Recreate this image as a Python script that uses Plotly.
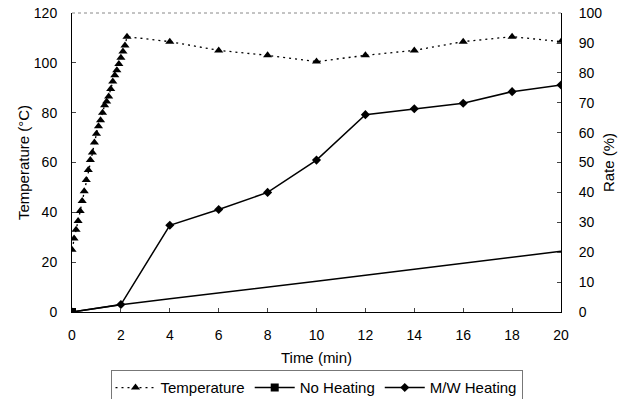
import plotly.graph_objects as go

# Temperature readings every 5 s during the first 2.25 min, then every 2 min
temp_time_early = [k / 12 for k in range(28)]
temp_early = [25, 29.5, 33, 36.5, 40.5, 44.5, 48.5, 53, 57, 61, 64, 68, 71.5, 74.5,
              77, 80, 83, 84.5, 86.5, 89.5, 92.5, 95, 97, 99.5, 102, 104.5, 107, 110.5]
temp_time_late = [4, 6, 8, 10, 12, 14, 16, 18, 20]
temp_late = [108.5, 105, 103, 100.5, 103, 105, 108.5, 110.5, 108.5]

rate_time = [0, 2, 4, 6, 8, 10, 12, 14, 16, 18, 20]
no_heating = [0, 2.4, 4.4, 6.3, 8.3, 10.3, 12.3, 14.3, 16.4, 18.4, 20.3]
mw_heating = [0, 2.5, 29, 34.3, 40, 50.8, 66, 68, 69.8, 73.7, 75.9]

x_ticks = list(range(0, 21, 2))
left_ticks = list(range(0, 121, 20))
right_ticks = list(range(0, 101, 10))

temp_time = temp_time_early + temp_time_late
temp_vals = temp_early + temp_late

FONT = "Arial, Liberation Sans, sans-serif"

fig = go.Figure()
fig.add_trace(go.Scatter(
    x=temp_time, y=temp_vals, name="Temperature", mode="lines+markers",
    line=dict(color="black", width=1.3, dash="2px,4px"),
    marker=dict(symbol="triangle-up", size=8, color="black"),
    yaxis="y"))
# No Heating: line through all points, square marker only at the start
fig.add_trace(go.Scatter(
    x=rate_time, y=no_heating, name="No Heating", mode="lines",
    line=dict(color="black", width=1.5), legendgroup="nh", showlegend=False,
    yaxis="y2"))
fig.add_trace(go.Scatter(
    x=rate_time[:1], y=no_heating[:1], name="No Heating", mode="lines+markers",
    line=dict(color="black", width=1.5), legendgroup="nh",
    marker=dict(symbol="square", size=8, color="black"),
    yaxis="y2"))
fig.add_trace(go.Scatter(
    x=rate_time, y=mw_heating, name="M/W Heating", mode="lines+markers",
    line=dict(color="black", width=1.5),
    marker=dict(symbol="diamond", size=7, color="black"),
    yaxis="y2"))

fig.update_layout(
    width=625, height=399,
    margin=dict(l=72, r=64, t=13, b=87, autoexpand=False),
    paper_bgcolor="white", plot_bgcolor="white",
    font=dict(family=FONT, size=14, color="black"),
    showlegend=True,
    legend=dict(orientation="h", x=0.5, xanchor="center", y=-0.195, yanchor="top",
                bordercolor="#777", borderwidth=1, font=dict(size=15),
                itemwidth=40, tracegroupgap=0),
    xaxis=dict(range=[0, 20], tickvals=x_ticks, ticks="inside", ticklen=4,
               showline=True, linecolor="black", linewidth=1, mirror=False,
               showgrid=False, zeroline=False, automargin=False,
               title=dict(text="Time (min)", standoff=10, font=dict(size=15)),
               ticklabelstandoff=10),
    yaxis=dict(range=[0, 120], tickvals=left_ticks, ticks="inside", ticklen=4,
               showline=True, linecolor="black", linewidth=1,
               showgrid=False, zeroline=False, automargin=False,
               title=dict(text="Temperature (°C)", standoff=0, font=dict(size=15)),
               ticklabelstandoff=11),
    yaxis2=dict(range=[0, 100], tickvals=right_ticks, ticks="inside", ticklen=4,
                overlaying="y", side="right",
                showline=True, linecolor="black", linewidth=1,
                showgrid=False, zeroline=False, automargin=False,
                title=dict(text="Rate (%)", standoff=2, font=dict(size=15)),
                ticklabelstandoff=14),
    shapes=[dict(type="line", xref="paper", yref="paper", x0=0, x1=1, y0=1, y1=1,
                 line=dict(color="#888", width=1, dash="dot"))],
)

fig.write_html("out.html")
